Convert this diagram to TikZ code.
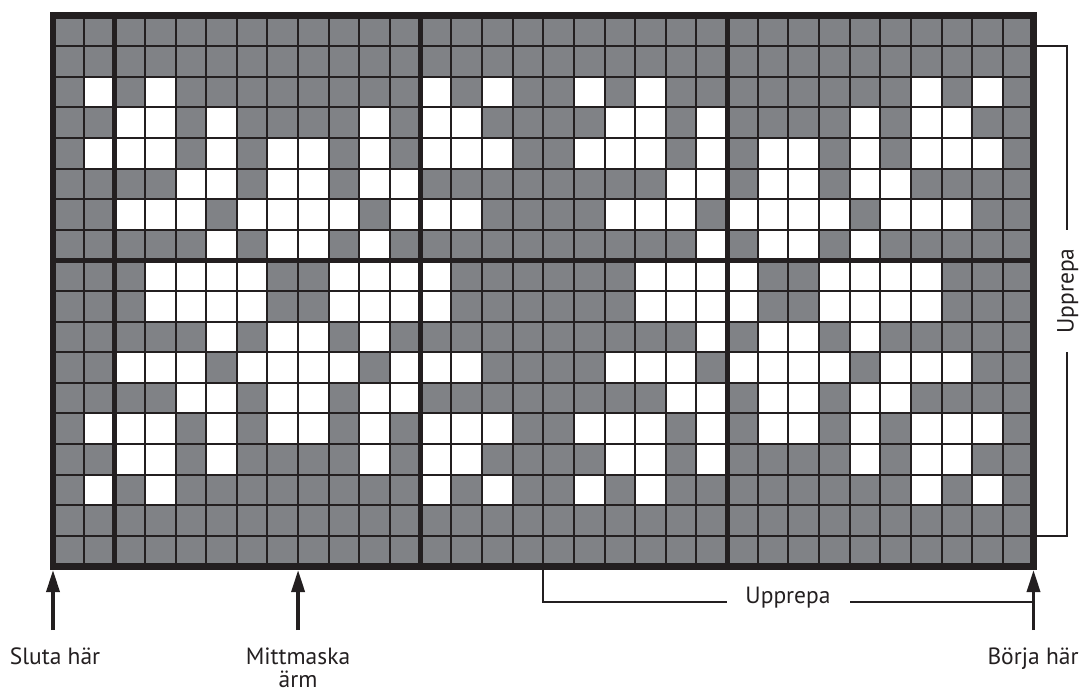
\documentclass[tikz,border=0pt]{standalone}
\usepackage{fontspec}
\setmainfont{PT Sans}
\usetikzlibrary{arrows.meta}
\definecolor{cellgray}{RGB}{128,130,134}
\definecolor{ink}{RGB}{35,31,32}
\begin{document}
\begin{tikzpicture}[x=1pt,y=-1pt,
  thinline/.style={ink, line width=2pt},
  thickline/.style={ink, line width=5pt},
  border/.style={ink, line width=6.5pt},
  bracket/.style={ink, line width=2pt},
  uparrow/.style={ink, line width=3.5pt, -{Triangle[length=22pt,width=13pt]}},
  lab/.style={font=\fontsize{23.5}{27}\selectfont, text=ink, inner sep=0pt},
]
\useasboundingbox (0,0) rectangle (1084,695);
\def\XO{53}\def\YO{15.5}\def\cellw{30.64}\def\cellh{30.61}
% background of cells
\fill[cellgray] (\XO,\YO) rectangle ({\XO+32*\cellw},{\YO+18*\cellh});
% white stitches (left half of motif, mirrored horizontally and vertically, repeated every 16)
\foreach \r/\w in {2/{1,3},3/{2,3,5},4/{1,2,3,5,7},5/{4,5,7},6/{2,3,4,6,7},7/{5,7},8/{3,4,5,6}}{
  \foreach \c in \w {
    \foreach \cc in {\c,15-\c,16+\c,31-\c} {
      \foreach \rr in {\r,17-\r} {
        \fill[white] ({\XO+(\cc)*\cellw},{\YO+(\rr)*\cellh}) rectangle ++(\cellw,\cellh);
      }
    }
  }
}
% thin grid lines
\foreach \i in {1,...,31} \draw[thinline] ({\XO+\i*\cellw},\YO) -- ++(0,{18*\cellh});
\foreach \j in {1,...,17} \draw[thinline] (\XO,{\YO+\j*\cellh}) -- ++({32*\cellw},0);
% thick lines
\foreach \i in {2,12,22} \draw[thickline] ({\XO+\i*\cellw},\YO) -- ++(0,{18*\cellh});
\draw[thickline] (\XO,{\YO+8*\cellh}) -- ++({32*\cellw},0);
\draw[border] (\XO,\YO) rectangle ({\XO+32*\cellw},{\YO+18*\cellh});

% labels
\node[lab, anchor=base] (sluta) at (55,664) {Sluta här};
\node[lab, anchor=base] (mitt) at (298,664) {Mittmaska};
\node[lab, anchor=base] (arm) at (298,687) {ärm};
\node[lab, anchor=base] (borja) at (1033,664) {Börja här};
\node[lab, anchor=mid] (uph) at (788,601) {Upprepa};
\node[lab, anchor=mid, rotate=90] (upv) at (1071,291) {Upprepa};

% arrows
\coordinate (slutaTail) at (53,630);
\coordinate (slutaTip) at (53,570);
\coordinate (mittTail) at (298.1,630);
\coordinate (mittTip) at (298.1,570);
\coordinate (borjaTail) at (1033.5,630);
\coordinate (borjaTip) at (1033.5,570);
\draw[uparrow] (slutaTail) -- (slutaTip);
\draw[uparrow] (mittTail) -- (mittTip);
\draw[uparrow] (borjaTail) -- (borjaTip);

% horizontal repeat bracket
\coordinate (hL) at (543.2,569);
\coordinate (hLend) at (727,602);
\coordinate (hRstart) at (850,602);
\coordinate (hR) at (1033.5,602);
\draw[bracket] (hL) |- (hLend);
\draw[bracket] (hRstart) -- (hR);

% vertical repeat bracket
\coordinate (vT) at (1036.5,46.1);
\coordinate (vTend) at (1067,230);
\coordinate (vB) at (1036.5,535.9);
\coordinate (vBend) at (1067,352);
\draw[bracket] (vT) -| (vTend);
\draw[bracket] (vB) -| (vBend);
\end{tikzpicture}
\end{document}
